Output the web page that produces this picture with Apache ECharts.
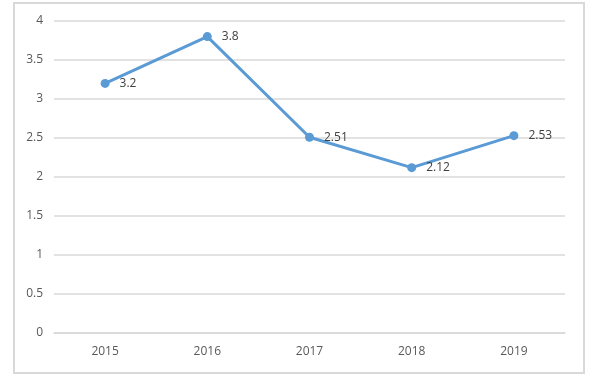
<!DOCTYPE html>
<html>
<head>
<meta charset="utf-8">
<script src="https://cdn.jsdelivr.net/npm/echarts@6/dist/echarts.min.js"></script>
<style>
  html, body { margin: 0; padding: 0; background: #fff; }
  #frame { position: absolute; left: 13px; top: 2px; width: 568px; height: 368px; border: 2px solid #d9d9d9; }
  #chart { position: absolute; left: 0; top: 0; width: 604px; height: 378px; }
</style>
</head>
<body>
<div id="frame"></div>
<div id="chart"></div>
<script>
// 年份与数值
const years = ['2015', '2016', '2017', '2018', '2019'];
const values = [3.2, 3.8, 2.51, 2.12, 2.53];

const chart = echarts.init(document.getElementById('chart'));
const option = {
    animation: false,
    grid: { left: 54, right: 39, top: 21, bottom: 45 },
    xAxis: {
        type: 'category',
        data: years,
        axisLine: { lineStyle: { color: '#d9d9d9', width: 1.5 } },
        axisTick: { show: false },
        axisLabel: { color: '#595959', fontSize: 12, margin: 13, fontFamily: 'Open Sans' }
    },
    yAxis: {
        type: 'value',
        min: 0,
        max: 4,
        interval: 0.5,
        axisLine: { show: false },
        axisTick: { show: false },
        axisLabel: { color: '#595959', fontSize: 12, margin: 11, fontFamily: 'Open Sans' },
        splitLine: { lineStyle: { color: '#d9d9d9', width: 1.5 } }
    },
    series: [{
        type: 'line',
        data: values,
        symbol: 'circle',
        symbolSize: 9,
        itemStyle: { color: '#5b9bd5' },
        lineStyle: { color: '#5b9bd5', width: 3 },
        label: {
            show: true,
            position: 'right',
            distance: 10,
            color: '#404040',
            fontSize: 12,
            fontFamily: 'Open Sans'
        }
    }]
};
chart.setOption(option);
</script>
</body>
</html>
